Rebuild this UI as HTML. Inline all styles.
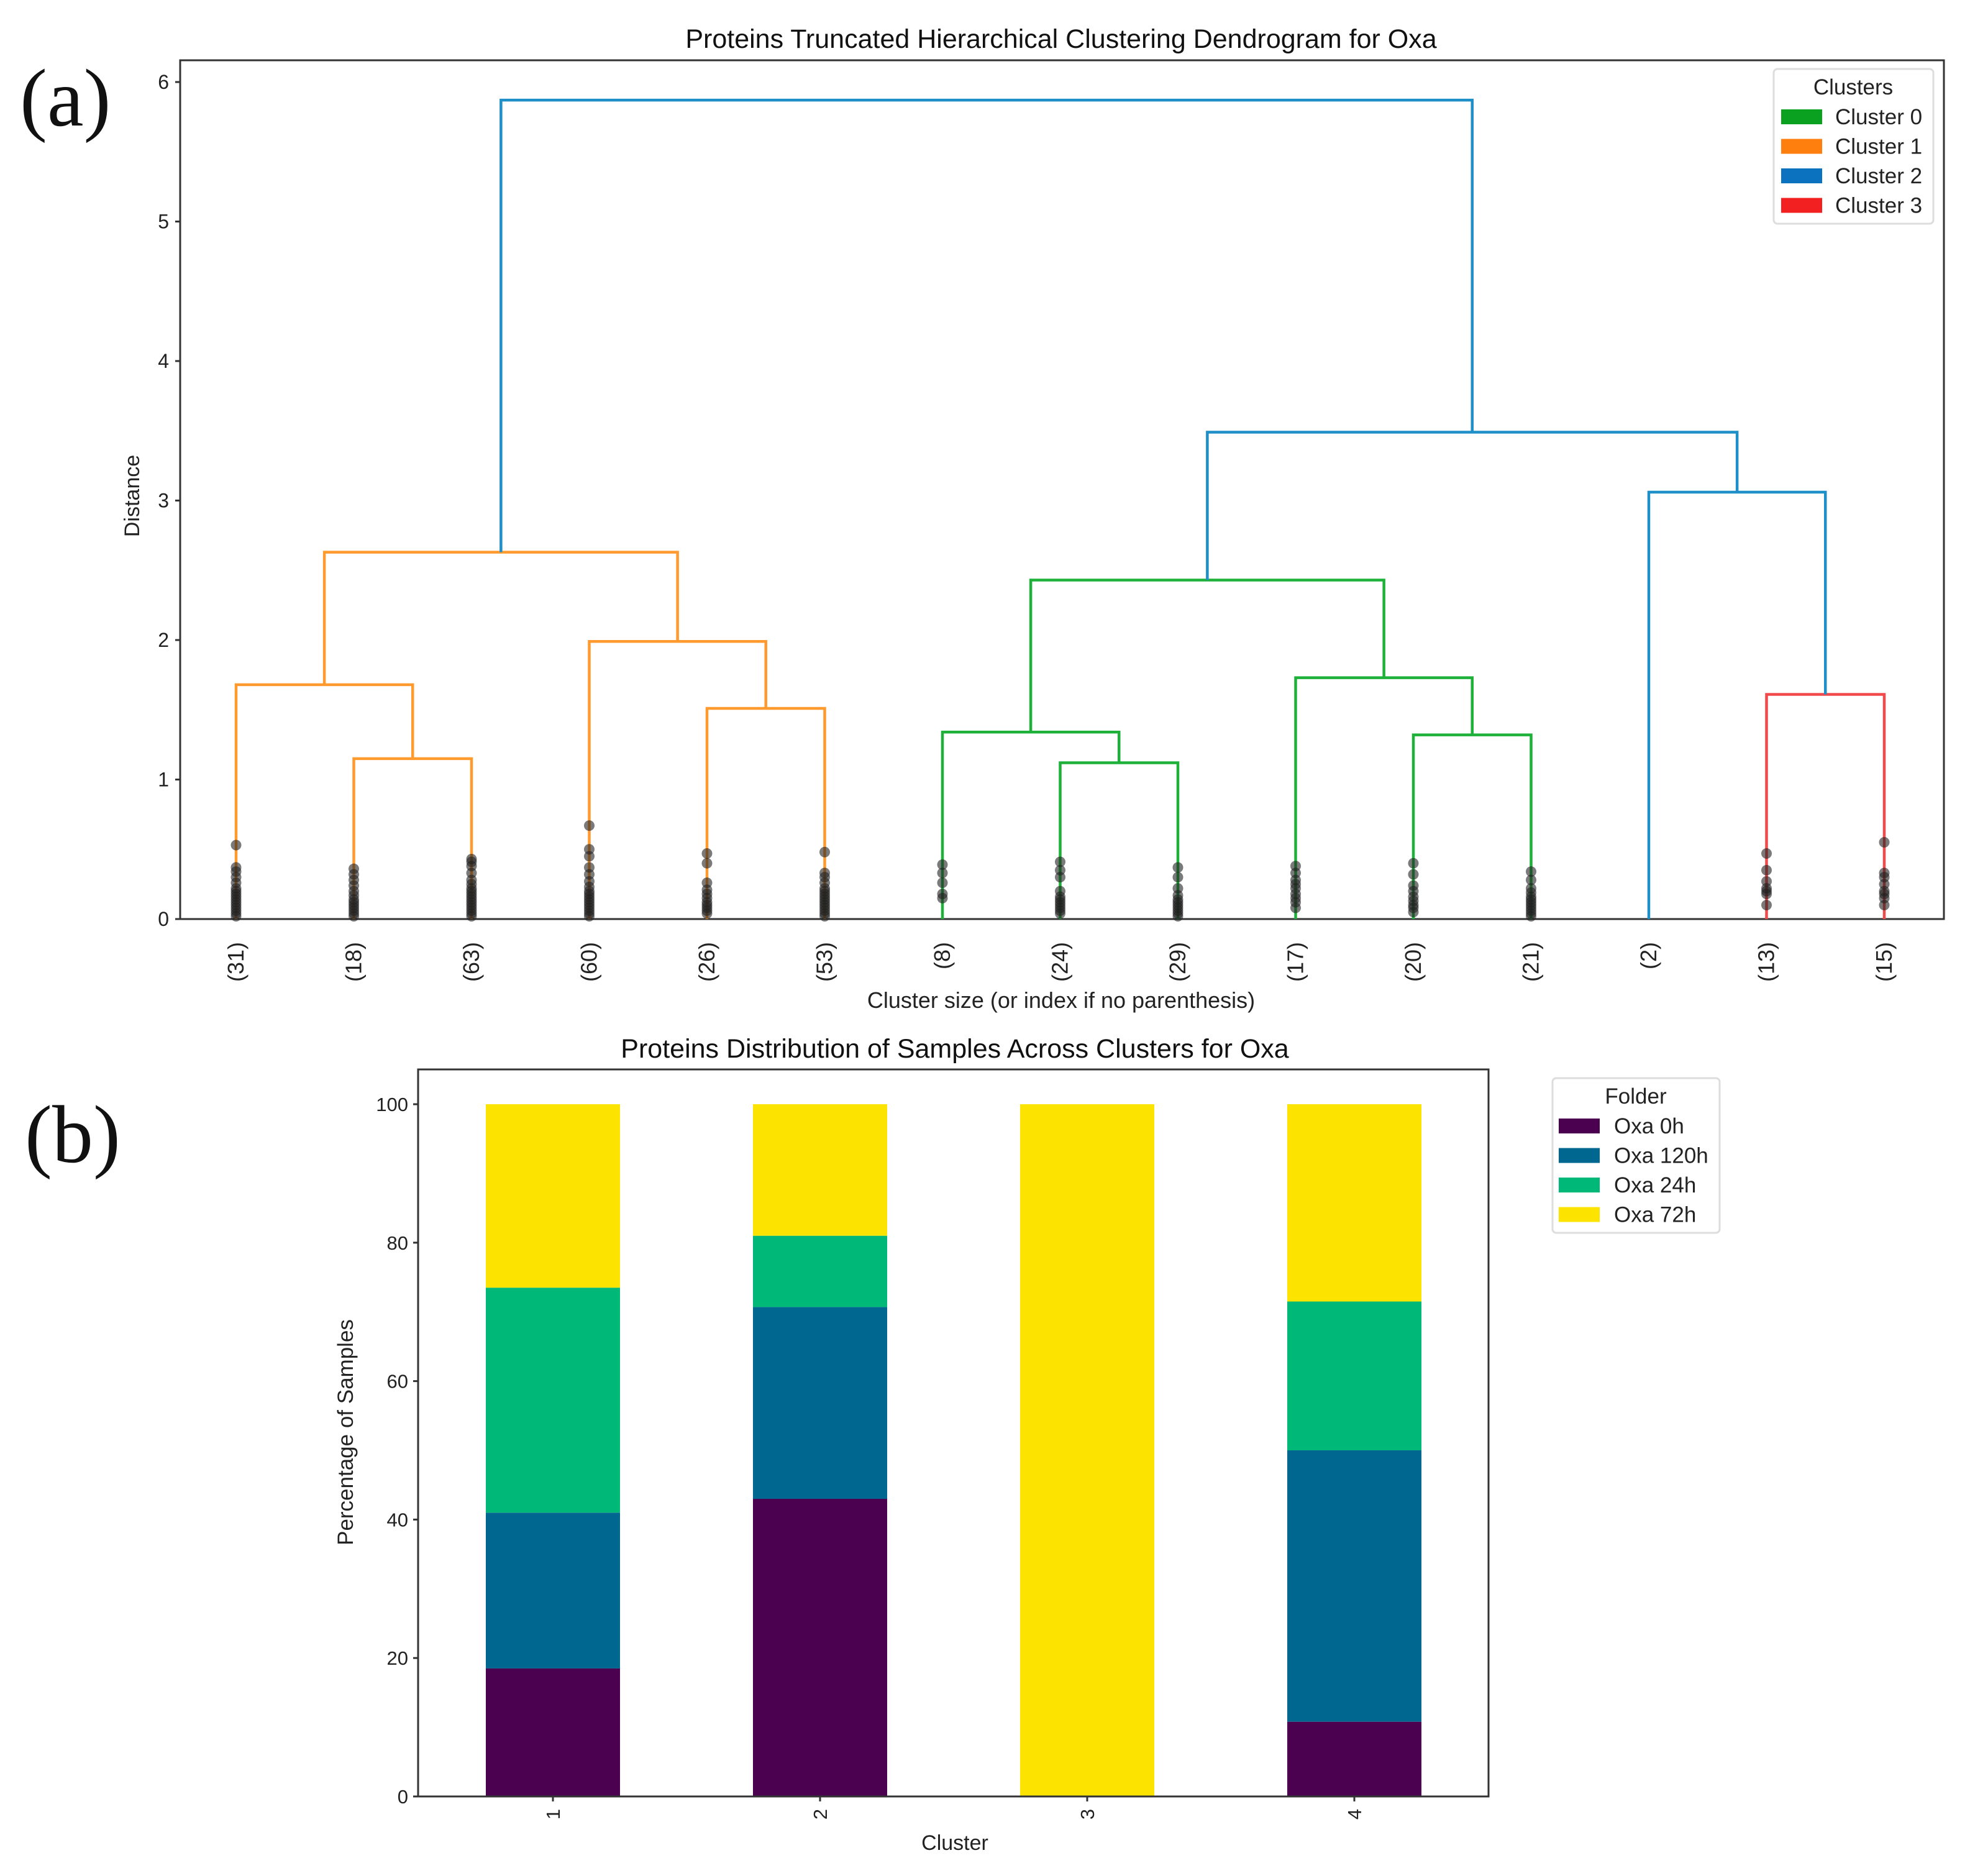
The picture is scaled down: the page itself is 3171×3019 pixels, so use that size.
<!DOCTYPE html>
<html><head><meta charset="utf-8">
<style>
html,body{margin:0;padding:0;background:#fff;}
svg{display:block;font-family:"Liberation Sans","DejaVu Sans",sans-serif;}
</style></head>
<body>
<svg id="fig" width="3171" height="3019" viewBox="0 0 3171 3019" xmlns="http://www.w3.org/2000/svg">
<rect width="3171" height="3019" fill="#fff"/>
<text x="32" y="202" font-family="Liberation Serif, serif" font-size="132" fill="#111">(a)</text>
<text x="40" y="1870" font-family="Liberation Serif, serif" font-size="132" fill="#111">(b)</text>
<g id="dendro"></g>
<g id="bars"></g>
</svg>
<script>
// ---------- Dendrogram data ----------
const leafLabels = ["(31)","(18)","(63)","(60)","(26)","(53)","(8)","(24)","(29)","(17)","(20)","(21)","(2)","(13)","(15)"];
const mergeLeft  = [1, 0, 4, 3, 16, 7, 6, 10, 9, 21, 13, 12, 24, 19];
const mergeRight = [2, 15, 5, 17, 18, 8, 20, 11, 22, 23, 14, 25, 26, 27];
const mergeHeights = [1.15, 1.68, 1.51, 1.99, 2.63, 1.12, 1.34, 1.32, 1.73, 2.43, 1.61, 3.06, 3.49, 5.87];
const mergeCluster = [1,1,1,1,1,0,0,0,0,0,3,2,2,2];
const leafDots = [
 [0.02,0.04,0.06,0.08,0.1,0.12,0.14,0.16,0.18,0.2,0.22,0.26,0.3,0.34,0.37,0.53],
 [0.02,0.04,0.06,0.08,0.1,0.12,0.14,0.17,0.2,0.24,0.28,0.32,0.36],
 [0.02,0.04,0.06,0.08,0.1,0.12,0.14,0.16,0.18,0.2,0.22,0.25,0.28,0.33,0.38,0.41,0.43],
 [0.02,0.04,0.06,0.08,0.1,0.12,0.14,0.16,0.18,0.2,0.23,0.27,0.32,0.37,0.45,0.5,0.67],
 [0.04,0.06,0.08,0.1,0.12,0.15,0.18,0.21,0.26,0.4,0.47],
 [0.02,0.04,0.06,0.08,0.1,0.12,0.14,0.16,0.18,0.2,0.22,0.26,0.3,0.33,0.48],
 [0.15,0.18,0.26,0.33,0.39],
 [0.04,0.06,0.08,0.1,0.12,0.14,0.16,0.2,0.3,0.35,0.41],
 [0.02,0.04,0.06,0.08,0.1,0.12,0.14,0.17,0.22,0.3,0.37],
 [0.08,0.12,0.15,0.18,0.22,0.25,0.28,0.33,0.38],
 [0.05,0.08,0.1,0.13,0.16,0.2,0.24,0.32,0.4],
 [0.02,0.04,0.06,0.08,0.1,0.12,0.14,0.16,0.19,0.22,0.28,0.34],
 [],
 [0.1,0.18,0.2,0.22,0.27,0.35,0.47],
 [0.1,0.15,0.18,0.2,0.25,0.3,0.33,0.55]
];
const yTicksA = [0,1,2,3,4,5,6];
const clusterNames = ["Cluster 0","Cluster 1","Cluster 2","Cluster 3"];
const clusterLine = ["#1db13a","#ff9a2e","#1f8fc8","#f24a4a"];
const clusterLegend = ["#0aa020","#ff7f0e","#0a72be","#f22020"];

// ---------- Stacked bar data ----------
const barCats = ["1","2","3","4"];
const seriesNames = ["Oxa 0h","Oxa 120h","Oxa 24h","Oxa 72h"];
const s0h   = [18.5, 43.0, 0, 10.8];
const s120h = [22.5, 27.7, 0, 39.2];
const s24h  = [32.5, 10.3, 0, 21.5];
const s72h  = [26.5, 19.0, 100, 28.5];
const yTicksB = [0,20,40,60,80,100];
const seriesColors = ["#4b0050","#006890","#00b878","#fde400"];

const NS = "http://www.w3.org/2000/svg";
function mk(parent, tag, attrs, text){
  const e = document.createElementNS(NS, tag);
  for (const k in attrs) e.setAttribute(k, attrs[k]);
  if (text !== undefined) e.textContent = text;
  parent.appendChild(e);
  return e;
}

// ---------- Dendrogram ----------
(function(){
  const g = document.getElementById("dendro");
  const L = 290, R = 3129, T = 97, B = 1479;
  const x0 = 380, dx = 189.5;
  const ux = i => x0 + i*dx;
  const uy = v => B - v*(B-132)/6;
  mk(g,"rect",{x:L,y:T,width:R-L,height:B-T,fill:"none",stroke:"#333","stroke-width":3});
  yTicksA.forEach(t=>{
    const tk = mk(g,"line",{x1:L-8,x2:L,y1:uy(t),y2:uy(t),stroke:"#333","stroke-width":3});
    
    
    const tl = mk(g,"text",{x:L-18,y:uy(t)+11,"text-anchor":"end","font-size":32,fill:"#222"},String(t));
    
    
  });
  const nx = leafLabels.map((_,i)=>i), ny = leafLabels.map(()=>0);
  mergeHeights.forEach((h,k)=>{
    const a = mergeLeft[k], b = mergeRight[k];
    const xa = nx[a], xb = nx[b];
    const p = mk(g,"path",{d:`M${ux(xa)},${uy(ny[a])}V${uy(h)}H${ux(xb)}V${uy(ny[b])}`,fill:"none",stroke:clusterLine[mergeCluster[k]],"stroke-width":4.5});
    
    
    nx.push((xa+xb)/2); ny.push(h);
  });
  leafLabels.forEach((lab,i)=>{
    leafDots[i].forEach(v=>{
      const c = mk(g,"circle",{cx:ux(i),cy:uy(v),r:8.5,fill:"#222","fill-opacity":0.6});
      
      
    });
    const t = mk(g,"text",{transform:`translate(${ux(i)+12},1516) rotate(-90)`,"text-anchor":"end","font-size":36,fill:"#222"},lab);
    
    
  });
  mk(g,"text",{x:1708,y:77,"text-anchor":"middle","font-size":43,fill:"#111",},"Proteins Truncated Hierarchical Clustering Dendrogram for Oxa");
  mk(g,"text",{x:1708,y:1622,"text-anchor":"middle","font-size":36,fill:"#222",},"Cluster size (or index if no parenthesis)");
  mk(g,"text",{transform:"translate(224,798) rotate(-90)","text-anchor":"middle","font-size":34,fill:"#222",},"Distance");
  const lg = mk(g,"g",{});
  mk(lg,"rect",{x:2855,y:111,width:257,height:249,rx:6,fill:"#fff",stroke:"#ddd","stroke-width":3});
  mk(lg,"text",{x:2983,y:152,"text-anchor":"middle","font-size":35,fill:"#222"},"Clusters");
  clusterNames.forEach((n,i)=>{
    const y = 188 + i*47.5;
    const s = mk(lg,"rect",{x:2867,y:y-12,width:66,height:24,fill:clusterLegend[i]});
    
    
    const t = mk(lg,"text",{x:2954,y:y+12,"font-size":35,fill:"#222"},n);
    
    
  });
})();

// ---------- Stacked bars ----------
(function(){
  const g = document.getElementById("bars");
  const L = 673, R = 2396, T = 1721, B = 2891;
  const y100 = 1777;
  const uy = v => B - v*(B-y100)/100;
  const cx0 = 890, cdx = 430, bw = 216;
  const bx = i => cx0 + i*cdx;
  const series = [s0h, s120h, s24h, s72h];
  barCats.forEach((c,i)=>{
    let acc = 0;
    series.forEach((s,j)=>{
      const v = s[i];
      if (v > 0){
        const r = mk(g,"rect",{x:bx(i)-bw/2,y:uy(acc+v),width:bw,height:uy(acc)-uy(acc+v),fill:seriesColors[j]});
        
        
      }
      acc += v;
    });
    const tk = mk(g,"line",{x1:bx(i),x2:bx(i),y1:B,y2:B+8,stroke:"#333","stroke-width":3});
    
    
    const t = mk(g,"text",{transform:`translate(${bx(i)+11},${B+20}) rotate(-90)`,"text-anchor":"end","font-size":31,fill:"#222"},c);
    
    
  });
  mk(g,"rect",{x:L,y:T,width:R-L,height:B-T,fill:"none",stroke:"#333","stroke-width":3});
  yTicksB.forEach(t=>{
    const tk = mk(g,"line",{x1:L-8,x2:L,y1:uy(t),y2:uy(t),stroke:"#333","stroke-width":3});
    
    
    const tl = mk(g,"text",{x:L-16,y:uy(t)+11,"text-anchor":"end","font-size":31,fill:"#222"},String(t));
    
    
  });
  mk(g,"text",{x:1537,y:1702,"text-anchor":"middle","font-size":43,fill:"#111",},"Proteins Distribution of Samples Across Clusters for Oxa");
  mk(g,"text",{x:1537,y:2977,"text-anchor":"middle","font-size":34,fill:"#222",},"Cluster");
  mk(g,"text",{transform:"translate(568,2305) rotate(-90)","text-anchor":"middle","font-size":35,fill:"#222",},"Percentage of Samples");
  const lg = mk(g,"g",{});
  mk(lg,"rect",{x:2499,y:1735,width:269,height:249,rx:6,fill:"#fff",stroke:"#ddd","stroke-width":3});
  mk(lg,"text",{x:2633,y:1776,"text-anchor":"middle","font-size":35,fill:"#222"},"Folder");
  seriesNames.forEach((n,i)=>{
    const y = 1812 + i*47.5;
    const s = mk(lg,"rect",{x:2509,y:y-12,width:66,height:24,fill:seriesColors[i]});
    
    
    const t = mk(lg,"text",{x:2598,y:y+12,"font-size":35,fill:"#222"},n);
    
    
  });
})();
</script>
</body></html>
